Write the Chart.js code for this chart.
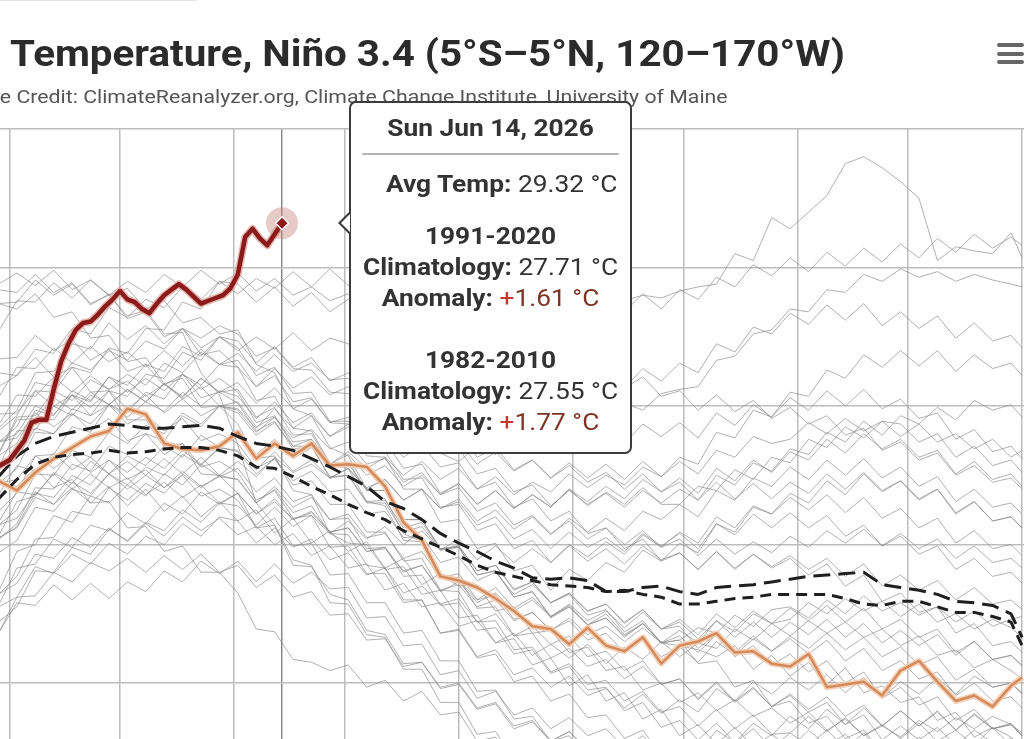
<!DOCTYPE html>
<html>
<head>
<meta charset="utf-8">
<script src="https://cdn.jsdelivr.net/npm/chart.js@4.4.1/dist/chart.umd.min.js"></script>
<style>
  html, body { margin: 0; padding: 0; background: #fff; overflow: hidden; }
  #wrap { position: relative; width: 1024px; height: 739px; overflow: hidden; font-family: Roboto, "Noto Sans", sans-serif; }
  #chart { position: absolute; left: 0; top: 0; }
  /* the source picture is stretched a little sideways, so text is too */
  .title { position: absolute; left: 10px; top: 36px; font-size: 36px; line-height: 36px; font-weight: 700; color: #2b2b2b; white-space: nowrap;
           transform: scaleX(1.12); transform-origin: left center; }
  .credit { position: absolute; right: 296px; top: 86px; font-size: 19px; line-height: 22px; color: #555; white-space: nowrap;
            transform: scaleX(1.12); transform-origin: right center; }
  .topline { position: absolute; left: 0; top: 0; width: 197px; height: 1px; background: #e4e4e4; }
  .menu span { position: absolute; left: 997px; width: 27px; height: 4px; border-radius: 2px; background: #666; }
  #tip { position: absolute; width: 283px; height: 353px; box-sizing: border-box; background: #fff; border: 2px solid #3c3c3c; border-radius: 7px;
         text-align: center; color: #333; font-size: 23.5px; line-height: 31px; }
  #tip::before { content: ''; position: absolute; left: -13px; top: 109px; border-top: 11px solid transparent; border-bottom: 11px solid transparent; border-right: 11px solid #3c3c3c; }
  #tip::after { content: ''; position: absolute; left: -10px; top: 111px; border-top: 9px solid transparent; border-bottom: 9px solid transparent; border-right: 9px solid #fff; }
  #tipBody { transform: scaleX(1.12); transform-origin: center top; }
  #tip b { font-weight: 700; }
  .t-date { margin-top: 10px; font-weight: 700; }
  .t-hr { margin: 9px 25px 0 25px; height: 2px; background: #b4b4b4; }
  .t-avg { margin-top: 14px; padding-left: 20px; }
  .t-grp { margin-top: 21px; }
  .t-grp + .t-grp { margin-top: 31px; }
  .plus { color: #c0392b; }
  .anom { color: #7e3424; }
</style>
</head>
<body>
<div id="wrap">
  <canvas id="chart" width="1024" height="739"></canvas>
  <div class="topline"></div>
  <div class="title">Temperature, Niño 3.4 (5°S–5°N, 120–170°W)</div>
  <div class="credit">Image Credit: ClimateReanalyzer.org, Climate Change Institute, University of Maine</div>
  <div class="menu"><span style="top:43px"></span><span style="top:52px"></span><span style="top:60px"></span></div>
  <div id="tip"><div id="tipBody"></div></div>
</div>
<script>
// day of year (0 = Jan 1)
const days = [87,92,97,102,107,112,117,122,127,132,137,142,147,152,157,162,167,172,177,182,187,192,197,202,207,212,217,222,227,232,237,242,247,252,257,262,267,272,277,282,287,292,297,302,307,312,317,322,327,332,337,342,347,352,357,362,365];
const days2026 = [86,88,90,92,94,96,98,100,102,104,106,108,110,112,114,116,118,120,122,124,126,128,130,132,134,136,138,140,142,144,146,148,150,152,154,156,158,160,162,164];

const temp2026 = [27.55,27.58,27.61,27.68,27.75,27.88,27.90,27.90,28.12,28.32,28.45,28.55,28.60,28.61,28.66,28.72,28.77,28.83,28.77,28.75,28.70,28.67,28.74,28.80,28.84,28.88,28.84,28.79,28.74,28.76,28.78,28.80,28.85,28.95,29.22,29.28,29.21,29.16,29.24,29.32];
const temp2025 = [27.46,27.39,27.52,27.62,27.70,27.78,27.82,27.98,27.94,27.73,27.69,27.68,27.71,27.81,27.62,27.73,27.64,27.73,27.57,27.58,27.56,27.42,27.16,27.03,26.77,26.74,26.69,26.61,26.52,26.41,26.39,26.28,26.40,26.27,26.23,26.33,26.14,26.27,26.30,26.36,26.22,26.23,26.14,26.12,26.21,25.97,25.99,26.01,25.91,26.09,26.16,26.01,25.87,25.91,25.83,25.98,26.04];
const clim1991_2020 = [27.49,27.64,27.73,27.78,27.81,27.84,27.87,27.86,27.84,27.84,27.85,27.86,27.84,27.78,27.73,27.71,27.68,27.62,27.56,27.49,27.42,27.31,27.26,27.18,27.08,27.01,26.95,26.88,26.83,26.76,26.75,26.76,26.74,26.66,26.66,26.69,26.70,26.66,26.64,26.69,26.70,26.71,26.73,26.75,26.77,26.78,26.79,26.80,26.71,26.69,26.67,26.64,26.59,26.58,26.56,26.50,26.33];
const clim1982_2010 = [27.33,27.47,27.58,27.63,27.65,27.66,27.68,27.66,27.67,27.69,27.70,27.70,27.68,27.64,27.56,27.55,27.49,27.42,27.36,27.29,27.23,27.18,27.10,27.04,26.98,26.92,26.85,26.80,26.77,26.74,26.71,26.70,26.69,26.66,26.67,26.64,26.62,26.57,26.57,26.59,26.61,26.62,26.64,26.64,26.64,26.64,26.61,26.57,26.56,26.59,26.59,26.55,26.51,26.51,26.48,26.44,26.27];

const y1982 = [27.82,27.93,28.17,28.14,28.31,28.26,28.40,28.33,28.47,28.41,28.56,28.49,28.58,28.52,28.36,28.42,28.27,28.26,28.10,28.09,27.93,27.92,27.74,27.76,27.66,27.60,27.71,27.65,27.79,27.74,27.88,27.83,27.95,27.88,28.02,27.97,28.09,28.12,28.14,28.33,28.36,28.52,28.55,28.70,28.68,28.84,28.82,28.95,28.90,28.99,28.93,28.97,28.90,28.95,28.91,28.88,28.86];
const y1983 = [28.88,28.96,28.87,28.98,28.84,28.91,28.80,28.85,28.70,28.76,28.60,28.64,28.52,28.55,28.30,28.24,27.98,27.93,27.70,27.64,27.40,27.33,27.08,27.02,26.78,26.70,26.71,26.52,26.55,26.36,26.38,26.22,26.26,26.09,26.12,25.95,26.00,25.86,25.93,25.80,25.88,25.76,25.82,25.71,25.79,25.66,25.74,25.62,25.69,25.61,25.73,25.65,25.75,25.67,25.76,25.70,25.64];
const y1984 = [27.14,27.19,27.38,27.29,27.41,27.30,27.42,27.28,27.40,27.24,27.35,27.20,27.31,27.17,27.25,27.08,27.19,27.01,27.10,26.95,27.02,26.83,26.90,26.71,26.79,26.74,26.60,26.69,26.54,26.62,26.48,26.56,26.42,26.50,26.35,26.43,26.29,26.31,26.14,26.16,25.97,26.02,25.83,25.87,25.71,25.76,25.60,25.66,25.50,25.59,25.48,25.57,25.49,25.56,25.47,25.50,25.44];
const y1985 = [26.64,26.72,26.93,26.90,27.05,26.98,27.12,27.02,27.15,27.06,27.20,27.10,27.19,27.07,27.13,27.00,27.08,26.92,26.99,26.83,26.86,26.67,26.72,26.55,26.58,26.41,26.45,26.29,26.36,26.20,26.28,26.18,26.28,26.14,26.26,26.17,26.30,26.19,26.29,26.25,26.39,26.31,26.43,26.34,26.45,26.36,26.44,26.33,26.39,26.27,26.34,26.20,26.24,26.11,26.17,26.09,26.03];
const y1986 = [27.06,27.31,27.35,27.52,27.44,27.60,27.51,27.64,27.57,27.71,27.63,27.79,27.70,27.78,27.65,27.76,27.62,27.70,27.58,27.67,27.55,27.63,27.50,27.60,27.47,27.55,27.40,27.49,27.36,27.45,27.38,27.51,27.41,27.50,27.43,27.56,27.49,27.60,27.51,27.68,27.63,27.78,27.73,27.76,27.88,27.80,27.91,27.82,27.89,27.78,27.87,27.74,27.80,27.69,27.76,27.63,27.68];
const y1987 = [28.54,28.76,28.75,28.89,28.78,28.91,28.80,28.90,28.82,28.95,28.86,28.98,28.88,28.96,28.83,28.92,28.80,28.86,28.76,28.81,28.66,28.70,28.56,28.60,28.45,28.52,28.37,28.44,28.31,28.38,28.26,28.33,28.20,28.25,28.13,28.21,28.07,28.11,27.97,28.08,27.96,28.04,27.91,27.99,27.87,27.93,27.79,27.84,27.68,27.74,27.61,27.66,27.50,27.57,27.45,27.48,27.40];
const y1988 = [27.44,27.42,27.55,27.41,27.47,27.30,27.31,27.12,27.13,26.95,26.99,26.80,26.80,26.65,26.39,26.37,26.17,26.15,26.09,26.13,25.97,26.02,25.87,25.94,25.77,25.79,25.58,25.61,25.42,25.46,25.28,25.35,25.21,25.27,25.13,25.22,25.09,25.09,24.92,24.99,24.83,24.88,24.74,24.81,24.69,24.75,24.62,24.70,24.60,24.62,24.73,24.64,24.72,24.67,24.77,24.70,24.68];
const y1989 = [26.56,26.83,26.86,27.04,26.98,27.14,27.10,27.23,27.15,27.30,27.22,27.38,27.29,27.37,27.22,27.31,27.18,27.23,27.09,27.12,26.95,26.97,26.81,26.85,26.67,26.71,26.55,26.60,26.45,26.51,26.38,26.47,26.35,26.41,26.30,26.40,26.29,26.38,26.29,26.45,26.37,26.50,26.43,26.46,26.58,26.50,26.61,26.52,26.59,26.48,26.57,26.44,26.50,26.39,26.46,26.40,26.33];
const y1990 = [27.74,27.80,28.00,27.94,28.08,27.99,28.11,27.98,28.08,27.95,28.05,27.93,28.00,27.97,27.81,27.92,27.77,27.83,27.69,27.74,27.58,27.62,27.45,27.52,27.36,27.41,27.24,27.30,27.14,27.21,27.08,27.17,27.04,27.12,27.00,27.10,26.98,27.04,26.92,27.04,26.93,27.02,26.94,27.06,26.98,27.10,27.01,27.11,26.99,27.08,26.97,27.04,26.90,26.99,26.87,26.90,26.83];
const y1991 = [27.66,27.92,27.93,28.11,28.04,28.19,28.12,28.23,28.15,28.31,28.24,28.39,28.30,28.38,28.25,28.37,28.25,28.31,28.19,28.20,28.02,28.02,27.84,27.86,27.67,27.69,27.51,27.55,27.38,27.43,27.28,27.39,27.29,27.37,27.27,27.39,27.30,27.40,27.32,27.50,27.43,27.59,27.53,27.69,27.65,27.81,27.74,27.89,27.79,27.93,27.87,27.99,27.90,28.04,27.97,28.01,27.92];
const y1992 = [28.74,28.75,28.91,28.80,28.88,28.73,28.81,28.63,28.68,28.50,28.56,28.37,28.40,28.28,28.04,28.07,27.84,27.82,27.59,27.59,27.39,27.39,27.18,27.18,26.97,26.98,26.78,26.81,26.62,26.66,26.48,26.55,26.42,26.47,26.34,26.43,26.29,26.31,26.40,26.36,26.49,26.41,26.53,26.55,26.47,26.60,26.50,26.63,26.52,26.58,26.49,26.55,26.44,26.52,26.41,26.46,26.48];
const y1993 = [27.84,27.97,28.24,28.25,28.45,28.41,28.60,28.48,28.58,28.45,28.56,28.42,28.50,28.42,28.22,28.28,28.09,28.10,27.89,27.89,27.69,27.67,27.47,27.48,27.27,27.29,27.10,27.15,26.97,27.03,26.87,26.99,26.88,26.97,26.86,26.99,26.89,26.94,26.82,26.95,26.83,26.93,26.84,26.92,26.82,26.90,26.77,26.86,26.70,26.78,26.67,26.74,26.60,26.69,26.57,26.60,26.53];
const y1994 = [27.65,27.90,27.91,28.06,27.97,28.10,28.01,28.12,28.03,28.16,28.07,28.20,28.10,28.17,28.02,28.13,27.98,28.05,27.88,27.92,27.73,27.75,27.55,27.58,27.37,27.44,27.29,27.39,27.26,27.36,27.27,27.40,27.28,27.38,27.29,27.41,27.29,27.29,27.42,27.39,27.54,27.47,27.63,27.59,27.76,27.70,27.85,27.77,27.89,27.87,27.74,27.80,27.63,27.71,27.57,27.61,27.52];
const y1995 = [27.94,27.95,28.11,28.00,28.08,27.93,28.01,27.87,27.94,27.82,27.91,27.75,27.80,27.73,27.55,27.62,27.43,27.46,27.29,27.29,27.09,27.09,26.88,26.90,26.67,26.66,26.44,26.45,26.24,26.26,26.08,26.14,25.99,26.02,25.87,25.94,25.79,25.83,25.69,25.81,25.67,25.77,25.63,25.64,25.76,25.65,25.75,25.62,25.70,25.60,25.71,25.58,25.66,25.55,25.68,25.61,25.53];
const y1996 = [27.05,27.12,27.34,27.29,27.45,27.37,27.51,27.40,27.50,27.41,27.53,27.42,27.49,27.47,27.30,27.42,27.27,27.34,27.18,27.22,27.05,27.08,26.90,26.95,26.76,26.79,26.60,26.64,26.46,26.51,26.38,26.45,26.31,26.36,26.22,26.32,26.19,26.26,26.15,26.30,26.20,26.32,26.23,26.34,26.25,26.36,26.24,26.33,26.19,26.26,26.13,26.19,26.02,26.10,25.97,26.00,25.93];
const y1997 = [27.74,27.85,28.11,28.10,28.28,28.24,28.42,28.38,28.56,28.55,28.75,28.70,28.90,28.81,28.92,28.85,28.97,28.86,28.99,28.87,28.95,28.82,28.92,28.79,28.87,28.74,28.80,28.68,28.77,28.66,28.78,28.72,28.78,28.70,28.76,28.80,28.78,28.83,28.86,28.88,29.10,29.05,29.36,29.28,29.40,29.52,29.75,29.80,29.72,29.62,29.50,29.05,29.15,29.12,29.10,29.25,29.07];
const y1998 = [28.84,28.82,28.95,28.82,28.89,28.74,28.80,28.65,28.69,28.52,28.53,28.24,28.08,27.72,27.30,27.14,26.85,26.84,26.64,26.60,26.38,26.35,26.14,26.15,25.97,26.00,25.82,25.86,25.69,25.73,25.58,25.65,25.52,25.57,25.45,25.52,25.39,25.44,25.30,25.41,25.29,25.36,25.23,25.32,25.21,25.28,25.15,25.21,25.09,25.16,25.05,25.12,24.98,25.07,24.97,24.97,24.95];
const y1999 = [26.36,26.62,26.63,26.80,26.73,26.87,26.81,26.90,26.80,26.92,26.82,26.93,26.80,26.85,26.69,26.78,26.62,26.66,26.49,26.50,26.31,26.32,26.12,26.15,25.96,25.99,25.81,25.85,25.67,25.72,25.58,25.65,25.52,25.57,25.44,25.52,25.39,25.43,25.29,25.41,25.28,25.36,25.23,25.30,25.17,25.24,25.09,25.16,24.99,25.08,24.97,25.04,24.90,24.99,24.87,24.90,24.86];
const y2000 = [26.55,26.62,26.84,26.79,26.93,26.86,27.01,26.93,27.06,27.00,27.15,27.06,27.20,27.17,27.01,27.12,26.98,27.04,26.89,26.94,26.78,26.83,26.65,26.70,26.57,26.61,26.44,26.50,26.34,26.41,26.28,26.34,26.19,26.23,26.09,26.16,25.99,26.03,25.88,26.00,25.86,25.96,25.83,25.92,25.81,25.90,25.76,25.84,25.69,25.80,25.69,25.79,25.66,25.77,25.67,25.70,25.62];
const y2001 = [27.04,27.13,27.37,27.34,27.50,27.43,27.61,27.52,27.63,27.55,27.68,27.58,27.70,27.67,27.51,27.62,27.46,27.53,27.38,27.40,27.22,27.24,27.05,27.06,26.87,26.91,26.74,26.80,26.64,26.71,26.58,26.65,26.52,26.57,26.44,26.53,26.39,26.44,26.32,26.45,26.33,26.44,26.33,26.44,26.35,26.46,26.33,26.43,26.29,26.38,26.27,26.35,26.20,26.30,26.17,26.20,26.13];
const y2002 = [27.64,27.73,27.97,27.93,28.11,28.04,28.21,28.15,28.30,28.25,28.43,28.36,28.50,28.47,28.31,28.43,28.28,28.35,28.18,28.24,28.07,28.13,27.96,28.03,27.86,27.93,27.77,27.86,27.72,27.81,27.67,27.80,27.71,27.82,27.73,27.87,27.78,27.88,27.77,27.95,27.86,28.01,27.92,28.06,27.97,28.11,28.00,28.12,27.98,28.05,27.91,27.95,27.76,27.83,27.67,27.71,27.62];
const y2003 = [27.36,27.57,27.53,27.66,27.54,27.63,27.51,27.60,27.50,27.62,27.51,27.63,27.50,27.60,27.49,27.63,27.52,27.58,27.48,27.55,27.41,27.47,27.32,27.40,27.26,27.31,27.14,27.20,27.04,27.11,26.97,27.09,26.98,27.05,26.95,27.08,26.99,27.08,26.97,27.15,27.07,27.22,27.12,27.23,27.12,27.21,27.06,27.14,26.99,27.06,26.93,26.99,26.82,26.90,26.77,26.80,26.72];
const y2004 = [27.55,27.62,27.84,27.80,27.94,27.87,28.01,27.92,28.03,27.96,28.10,28.00,28.11,28.07,27.91,28.03,27.88,27.95,27.78,27.87,27.74,27.83,27.70,27.80,27.66,27.74,27.58,27.67,27.53,27.61,27.48,27.57,27.45,27.52,27.40,27.51,27.38,27.45,27.32,27.45,27.33,27.44,27.33,27.45,27.37,27.51,27.40,27.52,27.39,27.46,27.33,27.40,27.23,27.31,27.17,27.20,27.12];
const y2005 = [27.86,28.08,28.07,28.21,28.10,28.22,28.12,28.18,28.07,28.16,28.05,28.14,28.00,28.03,27.85,27.92,27.74,27.76,27.59,27.59,27.39,27.39,27.18,27.18,26.97,26.99,26.81,26.85,26.68,26.73,26.58,26.65,26.52,26.57,26.43,26.53,26.39,26.41,26.25,26.35,26.19,26.27,26.13,26.21,26.08,26.16,26.00,26.08,25.89,25.97,25.84,25.90,25.73,25.81,25.67,25.70,25.62];
const y2006 = [27.14,27.25,27.51,27.50,27.68,27.63,27.81,27.73,27.86,27.80,27.95,27.87,28.00,27.95,27.79,27.88,27.71,27.76,27.58,27.65,27.50,27.57,27.42,27.50,27.36,27.44,27.29,27.39,27.26,27.36,27.27,27.40,27.31,27.42,27.33,27.47,27.38,27.48,27.37,27.55,27.46,27.61,27.52,27.67,27.61,27.76,27.66,27.80,27.69,27.76,27.63,27.68,27.51,27.60,27.47,27.51,27.42];
const y2007 = [27.44,27.47,27.64,27.55,27.65,27.52,27.61,27.47,27.54,27.41,27.50,27.35,27.40,27.32,27.12,27.19,26.99,27.01,26.78,26.79,26.58,26.58,26.36,26.38,26.16,26.16,25.94,25.95,25.74,25.76,25.58,25.62,25.45,25.47,25.30,25.36,25.19,25.24,25.11,25.24,25.11,25.22,25.13,25.22,25.11,25.19,25.05,25.13,24.99,25.11,25.03,25.14,25.02,25.15,25.07,25.07,25.05];
const y2008 = [26.44,26.55,26.81,26.80,26.98,26.93,27.11,27.03,27.16,27.10,27.25,27.16,27.30,27.28,27.14,27.27,27.13,27.21,27.08,27.17,27.04,27.13,27.00,27.10,26.96,26.99,26.81,26.85,26.67,26.73,26.58,26.64,26.49,26.53,26.37,26.45,26.29,26.27,26.24,26.19,26.27,26.10,26.20,26.05,26.15,25.99,26.11,25.93,25.98,25.86,25.90,25.73,25.79,25.61,25.68,25.55,25.58];
const y2009 = [27.24,27.37,27.64,27.65,27.85,27.81,28.01,27.95,28.10,28.05,28.23,28.15,28.30,28.28,28.14,28.27,28.13,28.21,28.08,28.14,27.98,28.04,27.88,27.95,27.76,27.81,27.63,27.70,27.54,27.61,27.48,27.59,27.48,27.58,27.47,27.60,27.49,27.63,27.58,27.81,27.77,27.97,27.92,28.10,28.07,28.26,28.20,28.37,28.28,28.40,28.29,28.40,28.25,28.37,28.27,28.31,28.22];
const y2010 = [28.24,28.22,28.35,28.21,28.28,28.10,28.11,27.90,27.90,27.70,27.73,27.51,27.50,27.37,27.12,27.14,26.89,26.85,26.58,26.57,26.35,26.33,26.10,26.10,25.86,25.86,25.63,25.65,25.44,25.46,25.27,25.34,25.18,25.23,25.08,25.16,24.99,25.06,24.95,25.10,24.99,25.12,25.02,25.15,25.06,25.20,25.09,25.21,25.08,25.16,25.02,25.09,24.91,25.00,24.87,24.87,24.85];
const y2011 = [26.66,26.95,27.00,27.21,27.16,27.35,27.30,27.43,27.35,27.51,27.43,27.58,27.49,27.55,27.38,27.48,27.31,27.36,27.18,27.19,26.97,26.98,26.77,26.78,26.56,26.58,26.38,26.40,26.21,26.24,26.07,26.12,25.95,25.97,25.80,25.86,25.68,25.73,25.59,25.71,25.57,25.67,25.53,25.64,25.55,25.66,25.53,25.64,25.49,25.60,25.49,25.58,25.45,25.56,25.47,25.50,25.42];
const y2012 = [27.04,27.15,27.41,27.40,27.58,27.53,27.71,27.65,27.80,27.75,27.93,27.85,28.00,27.98,27.84,27.98,27.84,27.93,27.78,27.85,27.71,27.78,27.63,27.72,27.56,27.59,27.40,27.45,27.27,27.33,27.17,27.24,27.08,27.12,26.97,27.04,26.88,26.94,26.82,26.95,26.82,26.93,26.83,26.90,26.78,26.86,26.70,26.78,26.59,26.65,26.51,26.55,26.36,26.43,26.27,26.30,26.22];
const y2013 = [27.16,27.38,27.36,27.51,27.40,27.51,27.41,27.48,27.36,27.45,27.34,27.43,27.30,27.37,27.22,27.33,27.18,27.24,27.09,27.12,26.95,26.98,26.80,26.85,26.66,26.73,26.58,26.65,26.52,26.60,26.48,26.57,26.45,26.52,26.40,26.51,26.39,26.46,26.35,26.50,26.40,26.52,26.43,26.54,26.45,26.56,26.44,26.54,26.39,26.46,26.33,26.39,26.22,26.30,26.17,26.20,26.12];
const y2014 = [27.54,27.65,27.91,27.90,28.08,28.03,28.21,28.10,28.20,28.11,28.23,28.12,28.20,28.10,27.88,27.93,27.71,27.71,27.49,27.50,27.31,27.32,27.12,27.16,26.96,27.04,26.89,26.99,26.87,26.97,26.87,27.00,26.91,27.02,26.93,27.07,26.98,27.09,27.01,27.20,27.12,27.28,27.22,27.37,27.30,27.46,27.36,27.51,27.38,27.46,27.32,27.40,27.22,27.31,27.17,27.20,27.12];
const y2015 = [28.14,28.22,28.41,28.38,28.56,28.52,28.71,28.64,28.77,28.71,28.86,28.77,28.90,28.88,28.75,28.86,28.72,28.82,28.68,28.77,28.64,28.74,28.60,28.70,28.56,28.69,28.60,28.74,28.63,28.77,28.67,28.78,28.67,28.80,28.68,28.81,28.70,28.84,28.77,28.93,28.86,29.02,28.94,29.07,28.97,29.11,29.01,29.14,29.04,29.17,29.07,29.21,29.11,29.24,29.14,29.22,29.16];
const y2016 = [28.74,28.70,28.81,28.64,28.68,28.49,28.51,28.32,28.35,28.16,28.20,27.99,28.00,27.87,27.62,27.64,27.39,27.36,27.08,27.07,26.85,26.83,26.60,26.60,26.36,26.39,26.19,26.24,26.06,26.11,25.97,26.05,25.91,25.96,25.82,25.92,25.78,25.88,25.79,25.96,25.87,26.01,25.92,26.04,25.95,26.06,25.93,26.04,25.89,26.01,25.92,26.04,25.92,26.05,25.97,26.00,25.92];
const y2017 = [27.56,27.82,27.83,28.00,27.93,28.08,28.01,28.12,28.03,28.16,28.06,28.20,28.10,28.12,27.92,27.99,27.79,27.80,27.58,27.55,27.31,27.28,27.03,27.02,26.76,26.76,26.54,26.55,26.34,26.36,26.18,26.25,26.12,26.17,26.03,26.12,25.99,26.03,25.89,26.01,25.87,25.97,25.83,25.91,25.79,25.86,25.70,25.77,25.59,25.69,25.59,25.68,25.55,25.66,25.57,25.60,25.52];
const y2018 = [26.94,27.03,27.27,27.24,27.40,27.35,27.51,27.43,27.56,27.50,27.65,27.57,27.70,27.68,27.54,27.67,27.53,27.61,27.48,27.55,27.40,27.47,27.32,27.40,27.26,27.33,27.17,27.25,27.11,27.20,27.07,27.19,27.09,27.19,27.10,27.24,27.18,27.29,27.20,27.39,27.32,27.48,27.42,27.56,27.47,27.61,27.50,27.62,27.48,27.56,27.42,27.49,27.31,27.40,27.27,27.30,27.22];
const y2019 = [28.06,28.28,28.27,28.42,28.31,28.43,28.32,28.39,28.28,28.40,28.29,28.41,28.30,28.33,28.14,28.22,28.03,28.06,27.88,27.87,27.64,27.63,27.40,27.40,27.16,27.18,26.97,27.01,26.81,26.85,26.67,26.82,26.74,26.87,26.80,26.96,26.88,27.01,26.94,27.15,27.09,27.27,27.22,27.34,27.25,27.36,27.23,27.34,27.19,27.26,27.12,27.19,27.01,27.10,26.97,27.00,26.92];
const y2020 = [27.74,27.77,27.95,27.85,27.95,27.82,27.91,27.75,27.80,27.65,27.73,27.56,27.60,27.52,27.32,27.39,27.19,27.21,26.98,26.99,26.79,26.79,26.58,26.60,26.36,26.38,26.18,26.21,26.01,26.05,25.87,25.92,25.75,25.77,25.60,25.66,25.48,25.51,25.35,25.45,25.29,25.37,25.23,25.36,25.30,25.43,25.32,25.46,25.29,25.40,25.29,25.40,25.26,25.38,25.27,25.30,25.22];
const y2021 = [26.64,26.77,27.04,27.05,27.24,27.21,27.41,27.32,27.44,27.37,27.51,27.41,27.50,27.47,27.30,27.40,27.23,27.28,27.08,27.01,27.00,26.82,26.84,26.64,26.67,26.47,26.49,26.29,26.32,26.13,26.18,25.98,26.06,25.87,25.93,25.74,25.81,25.62,25.70,25.56,25.68,25.54,25.63,25.53,25.66,25.55,25.63,25.50,25.58,25.48,25.61,25.49,25.57,25.44,25.55,25.45,25.51];
const y2022 = [26.36,26.58,26.56,26.71,26.60,26.72,26.61,26.73,26.66,26.81,26.73,26.88,26.79,26.88,26.73,26.86,26.72,26.80,26.68,26.69,26.47,26.48,26.27,26.28,26.06,26.09,25.89,25.94,25.77,25.82,25.67,25.75,25.62,25.67,25.53,25.62,25.49,25.58,25.49,25.66,25.57,25.71,25.62,25.76,25.67,25.81,25.70,25.82,25.69,25.80,25.69,25.80,25.66,25.78,25.67,25.71,25.62];
const y2023 = [27.44,27.55,27.81,27.80,27.98,27.93,28.11,28.07,28.23,28.20,28.39,28.33,28.50,28.40,28.50,28.41,28.53,28.40,28.49,28.45,28.30,28.37,28.22,28.30,28.16,28.24,28.09,28.19,28.06,28.16,28.07,28.20,28.10,28.21,28.13,28.27,28.18,28.31,28.24,28.45,28.39,28.57,28.52,28.67,28.59,28.73,28.62,28.74,28.58,28.68,28.56,28.65,28.49,28.60,28.47,28.51,28.42];
const y2024 = [28.34,28.35,28.51,28.40,28.48,28.33,28.41,28.25,28.30,28.15,28.23,28.06,28.10,28.02,27.82,27.89,27.69,27.71,27.48,27.50,27.30,27.30,27.09,27.13,26.96,26.98,26.78,26.81,26.62,26.66,26.47,26.55,26.42,26.47,26.33,26.43,26.29,26.34,26.22,26.35,26.22,26.34,26.23,26.32,26.21,26.31,26.16,26.25,26.09,26.16,26.03,26.08,25.91,26.00,25.87,25.90,25.82];

const pastYears = [1982,1983,1984,1985,1986,1987,1988,1989,1990,1991,1992,1993,1994,1995,1996,1997,1998,1999,2000,2001,2002,2003,2004,2005,2006,2007,2008,2009,2010,2011,2012,2013,2014,2015,2016,2017,2018,2019,2020,2021,2022,2023,2024];
const pastSeries = [y1982,y1983,y1984,y1985,y1986,y1987,y1988,y1989,y1990,y1991,y1992,y1993,y1994,y1995,y1996,y1997,y1998,y1999,y2000,y2001,y2002,y2003,y2004,y2005,y2006,y2007,y2008,y2009,y2010,y2011,y2012,y2013,y2014,y2015,y2016,y2017,y2018,y2019,y2020,y2021,y2022,y2023,y2024];

// month starts for the vertical grid, and the hovered day
const monthStarts = [90,120,151,181,212,243,273,304,334,365];
const hoverDay = 164;
const hoverLabel = 'Sun Jun 14, 2026';
const climLabels = ['1991-2020', '1982-2010'];
const hoverClim = [27.71, 27.55];

const toPoints = (xs, ys) => ys.map((y, i) => ({ x: xs[i], y }));

const datasets = [
  { label: '2026', data: toPoints(days2026, temp2026), borderColor: '#8b1a1a', borderWidth: 4.5, order: 0,
    pointRadius: (c) => c.dataIndex === temp2026.length - 1 ? 6.5 : 0,
    pointStyle: 'rectRot', pointBackgroundColor: '#8b1a1a', pointBorderColor: '#fff', pointBorderWidth: 1.5 },
  { label: '2026 halo', data: toPoints(days2026, temp2026), borderColor: 'rgba(222,170,160,0.85)', borderWidth: 7.5, order: 1 },
  { label: '1991-2020', data: toPoints(days, clim1991_2020), borderColor: '#1f1f1f', borderWidth: 3, borderDash: [17, 8], order: 2 },
  { label: '1982-2010', data: toPoints(days, clim1982_2010), borderColor: '#1f1f1f', borderWidth: 3, borderDash: [11, 7], order: 2 },
  { label: '2025', data: toPoints(days, temp2025), borderColor: '#d48a5a', borderWidth: 2.5, order: 3 },
  { label: '2025 halo', data: toPoints(days, temp2025), borderColor: 'rgba(243,205,178,0.9)', borderWidth: 6, order: 4 }
];
pastSeries.forEach((vals, i) => {
  datasets.push({ label: String(pastYears[i]), data: toPoints(days, vals), borderColor: 'rgba(135,135,135,0.65)', borderWidth: 1, order: 5 });
});

// pink ring behind the hovered point, and tooltip placement next to it
const hoverRing = {
  id: 'hoverRing',
  beforeDatasetDraw(chart, args) {
    if (args.index !== 0) return;
    const meta = chart.getDatasetMeta(0);
    const pt = meta.data[meta.data.length - 1];
    const ctx = chart.ctx;
    ctx.save();
    ctx.fillStyle = 'rgba(196,130,118,0.42)';
    ctx.beginPath();
    ctx.arc(pt.x, pt.y, 16, 0, Math.PI * 2);
    ctx.fill();
    ctx.restore();
  },
  afterRender(chart) {
    const meta = chart.getDatasetMeta(0);
    const pt = meta.data[meta.data.length - 1];
    const tip = document.getElementById('tip');
    tip.style.left = Math.round(pt.x + 67) + 'px';
    tip.style.top = Math.round(pt.y - 122) + 'px';
  }
};

// tooltip text
const avg = temp2026[temp2026.length - 1];
const fmt = (v) => v.toFixed(2) + ' °C';
let html = '<div class="t-date">' + hoverLabel + '</div><div class="t-hr"></div>' +
  '<div class="t-avg"><b>Avg Temp:</b> ' + fmt(avg) + '</div>';
climLabels.forEach((lab, i) => {
  const an = avg - hoverClim[i];
  html += '<div class="t-grp"><div><b>' + lab + '</b></div>' +
    '<div><b>Climatology:</b> ' + fmt(hoverClim[i]) + '</div>' +
    '<div><b>Anomaly:</b> <span class="plus">' + (an >= 0 ? '+' : '−') + '</span><span class="anom">' + fmt(Math.abs(an)) + '</span></div></div>';
});
document.getElementById('tipBody').innerHTML = html;

new Chart(document.getElementById('chart').getContext('2d'), {
  type: 'line',
  data: { datasets },
  options: {
    responsive: false,
    animation: false,
    events: [],
    layout: { padding: { top: 129, left: 0, right: 0, bottom: 0 }, autoPadding: false },
    plugins: { legend: { display: false }, tooltip: { enabled: false }, title: { display: false } },
    elements: {
      point: { radius: 0 },
      line: { tension: 0, borderJoinStyle: 'round' }
    },
    scales: {
      x: {
        type: 'linear', min: 87.41, max: 365.52,
        ticks: { display: false },
        border: { display: false },
        grid: { drawTicks: false, lineWidth: 1.5,
          color: (c) => (c.tick && c.tick.value === hoverDay) ? '#8a8a8a' : '#bdbdbd' },
        afterBuildTicks: (axis) => {
          axis.ticks = monthStarts.concat([hoverDay]).sort((a, b) => a - b).map((v) => ({ value: v }));
        }
      },
      y: {
        min: 25.596, max: 30,
        ticks: { display: false, stepSize: 1, includeBounds: false },
        border: { display: false },
        grid: { drawTicks: false, lineWidth: 1.5, color: '#bdbdbd' }
      }
    }
  },
  plugins: [hoverRing]
});
</script>
</body>
</html>
